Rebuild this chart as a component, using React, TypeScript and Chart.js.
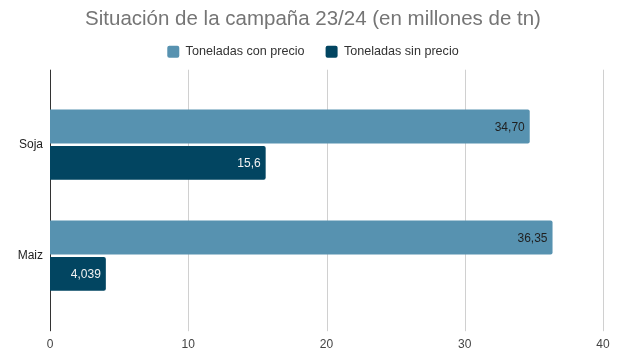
import React, { useEffect, useRef } from "react";
import { Chart, registerables } from "chart.js";

Chart.register(...registerables);

const categories = ["Soja", "Maiz"];
const conPrecio = [34.7, 36.35];
const sinPrecio = [15.6, 4.039];
const conPrecioLabels = ["34,70", "36,35"];
const sinPrecioLabels = ["15,6", "4,039"];
const seriesNames = ["Toneladas con precio", "Toneladas sin precio"];
const xTicks = [0, 10, 20, 30, 40];

const FONT = "'Liberation Sans', Arial, sans-serif";
const GRID_EXT_TOP = 19.5;
const GRID_EXT_BOTTOM = 20;

const axesDecor = {
  id: "axesDecor",
  beforeDatasetsDraw(chart: any) {
    const ctx = chart.ctx;
    const xs = chart.scales.x;
    const ys = chart.scales.y;
    const { top, bottom, left } = chart.chartArea;
    ctx.save();
    xs.ticks.forEach((t: any) => {
      const px = Math.round(xs.getPixelForValue(t.value)) + 0.5;
      ctx.beginPath();
      ctx.lineWidth = 1;
      ctx.strokeStyle = t.value === 0 ? "#333333" : "#d0d0d0";
      ctx.moveTo(px, top - GRID_EXT_TOP);
      ctx.lineTo(px, bottom + GRID_EXT_BOTTOM);
      ctx.stroke();
    });
    ctx.font = `12px ${FONT}`;
    ctx.fillStyle = "#444444";
    ctx.textAlign = "center";
    ctx.textBaseline = "top";
    xs.ticks.forEach((t: any) => {
      const px = xs.getPixelForValue(t.value);
      ctx.fillText(String(t.value), px, bottom + 27.5);
    });
    ctx.fillStyle = "#222222";
    ctx.textAlign = "right";
    ctx.textBaseline = "middle";
    categories.forEach((c, i) => {
      ctx.fillText(c, left - 7, ys.getPixelForValue(i));
    });
    ctx.restore();
  },
};

const barLabels = {
  id: "barLabels",
  afterDatasetsDraw(chart: any) {
    const ctx = chart.ctx;
    const sets = [
      { labels: conPrecioLabels, color: "#1f1f1f" },
      { labels: sinPrecioLabels, color: "#f2f2f2" },
    ];
    ctx.save();
    ctx.font = `12px ${FONT}`;
    ctx.textAlign = "right";
    ctx.textBaseline = "middle";
    chart.data.datasets.forEach((_: any, di: number) => {
      const meta = chart.getDatasetMeta(di);
      meta.data.forEach((el: any, i: number) => {
        ctx.fillStyle = sets[di].color;
        ctx.fillText(sets[di].labels[i], el.x - 5, el.y + 1);
      });
    });
    ctx.restore();
  },
};

export default function App() {
  const ref = useRef<HTMLCanvasElement>(null);
  useEffect(() => {
    document.body.style.margin = "0";
    const chart = new Chart(ref.current!, {
      type: "bar",
      data: {
        labels: categories,
        datasets: [
          {
            label: seriesNames[0],
            data: conPrecio,
            backgroundColor: "#5792b0",
            borderWidth: 0,
            borderRadius: 2,
            categoryPercentage: 0.655,
            barPercentage: 0.935,
          },
          {
            label: seriesNames[1],
            data: sinPrecio,
            backgroundColor: "#024561",
            borderWidth: 0,
            borderRadius: 2,
            categoryPercentage: 0.655,
            barPercentage: 0.935,
          },
        ],
      },
      options: {
        indexAxis: "y",
        animation: false,
        responsive: false,
        layout: { padding: { left: 23, right: 23, top: 0, bottom: 0 } },
        plugins: {
          title: {
            display: true,
            text: "Situación de la campaña 23/24 (en millones de tn)",
            color: "#757575",
            font: { family: FONT, size: 20.5, weight: "normal" },
            padding: { top: 7.3, bottom: -7.5 },
          },
          legend: {
            display: true,
            position: "top",
            labels: {
              boxWidth: 12,
              boxHeight: 12,
              padding: 21,
              color: "#333333",
              font: { family: FONT, size: 12.6 },
              useBorderRadius: true,
              borderRadius: 2,
            },
          },
          tooltip: { enabled: false },
        },
        scales: {
          x: {
            type: "linear",
            position: "bottom",
            min: 0,
            max: 40,
            afterBuildTicks: (axis: any) => {
              axis.ticks = xTicks.map((v) => ({ value: v }));
            },
            afterFit: (s: any) => {
              s.height = 48.8;
            },
            grid: { display: false, drawTicks: false },
            border: { display: false },
            ticks: { display: false },
          },
          xTop: {
            type: "linear",
            axis: "x",
            position: "top",
            display: true,
            grid: { display: false },
            border: { display: false },
            ticks: { display: false },
            afterFit: (s: any) => {
              s.height = 21.2;
            },
          },
          y: {
            type: "category",
            offset: true,
            afterFit: (s: any) => {
              s.width = 27;
            },
            grid: { display: false, drawTicks: false },
            border: { display: false },
            ticks: { display: false },
          },
        } as any,
      },
      plugins: [axesDecor, barLabels],
    } as any);
    return () => chart.destroy();
  }, []);
  return (
    <div style={{ width: 626, height: 360 }}>
      <canvas ref={ref} width={626} height={360} />
    </div>
  );
}
